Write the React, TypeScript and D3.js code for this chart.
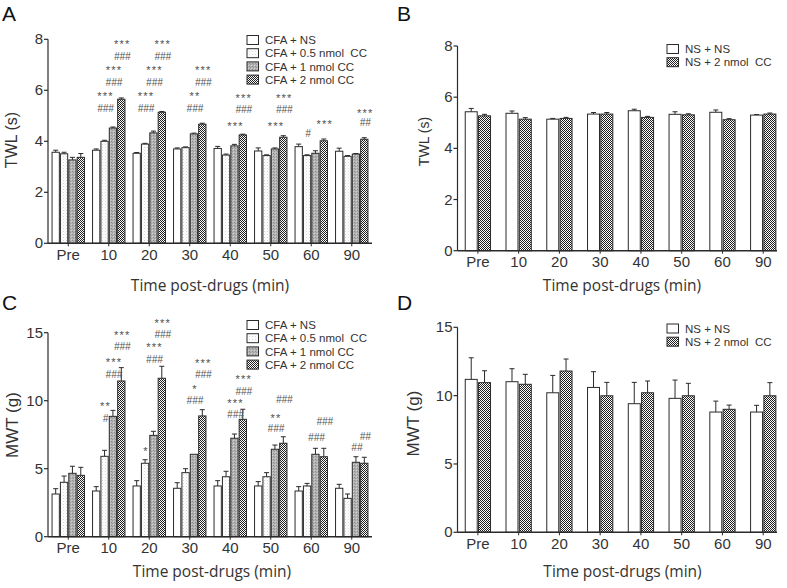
import React from "react";
import * as d3 from "d3";

const categories = ["Pre", "10", "20", "30", "40", "50", "60", "90"];

// Panel A: TWL (s), CFA groups
const cfaNames = ["CFA + NS", "CFA + 0.5 nmol  CC", "CFA + 1 nmol CC", "CFA + 2 nmol CC"];
const twlCfaNS = [3.57, 3.65, 3.53, 3.7, 3.72, 3.62, 3.79, 3.61];
const twlCfaNSErr = [0.08, 0.05, 0.03, 0.04, 0.08, 0.12, 0.1, 0.12];
const twlCc05 = [3.51, 4.0, 3.89, 3.75, 3.46, 3.44, 3.44, 3.41];
const twlCc05Err = [0.06, 0.04, 0.03, 0.03, 0.04, 0.03, 0.03, 0.03];
const twlCc1 = [3.27, 4.52, 4.33, 4.29, 3.82, 3.7, 3.53, 3.5];
const twlCc1Err = [0.1, 0.04, 0.07, 0.03, 0.06, 0.04, 0.1, 0.02];
const twlCc2 = [3.37, 5.65, 5.14, 4.67, 4.25, 4.16, 4.02, 4.08];
const twlCc2Err = [0.15, 0.05, 0.03, 0.04, 0.03, 0.06, 0.07, 0.06];

// Panel B: TWL (s), NS groups
const nsNames = ["NS + NS", "NS + 2 nmol  CC"];
const twlNsNS = [5.43, 5.37, 5.14, 5.34, 5.47, 5.33, 5.41, 5.3];
const twlNsNSErr = [0.13, 0.09, 0.03, 0.06, 0.06, 0.1, 0.09, 0.02];
const twlNsCc2 = [5.27, 5.14, 5.17, 5.34, 5.21, 5.31, 5.12, 5.34];
const twlNsCc2Err = [0.06, 0.06, 0.04, 0.06, 0.04, 0.04, 0.04, 0.04];

// Panel C: MWT (g), CFA groups
const mwtCfaNS = [3.14, 3.36, 3.73, 3.56, 3.73, 3.73, 3.36, 3.56];
const mwtCfaNSErr = [0.39, 0.32, 0.39, 0.41, 0.39, 0.32, 0.32, 0.29];
const mwtCc05 = [4.0, 5.91, 5.4, 4.71, 4.41, 4.41, 3.73, 2.82];
const mwtCc05Err = [0.46, 0.44, 0.26, 0.29, 0.4, 0.3, 0.19, 0.32];
const mwtCc1 = [4.66, 8.85, 7.45, 6.06, 7.24, 6.43, 6.06, 5.47];
const mwtCc1Err = [0.52, 0.44, 0.3, 0, 0.31, 0.31, 0.44, 0.41];
const mwtCc2 = [4.51, 11.45, 11.65, 8.88, 8.63, 6.87, 5.88, 5.4];
const mwtCc2Err = [0.59, 0.98, 0.88, 0.46, 0.74, 0.48, 0.62, 0.44];

// Panel D: MWT (g), NS groups
const mwtNsNS = [11.19, 11.02, 10.21, 10.6, 9.41, 9.8, 8.8, 8.8];
const mwtNsNSErr = [1.58, 0.95, 1.27, 1.15, 1.56, 1.34, 0.8, 0.49];
const mwtNsCc2 = [10.95, 10.83, 11.8, 9.99, 10.21, 9.99, 9.0, 9.99];
const mwtNsCc2Err = [0.87, 0.73, 0.88, 0.98, 0.86, 0.91, 0.31, 0.96];

const twlTicks = [0, 2, 4, 6, 8];
const mwtTicks = [0, 5, 10, 15];

// significance marks: [category, series index, text, level in axis units]
const twlMarks: [string, number, string, number][] = [
  ["10", 1, "***", 5.9], ["10", 1, "###", 5.27], ["10", 2, "***", 6.9], ["10", 2, "###", 6.3], ["10", 3, "***", 7.93], ["10", 3, "###", 7.33],
  ["20", 1, "***", 5.9], ["20", 1, "###", 5.27], ["20", 2, "***", 6.9], ["20", 2, "###", 6.3], ["20", 3, "***", 7.93], ["20", 3, "###", 7.33],
  ["30", 2, "**", 5.9], ["30", 2, "###", 5.27], ["30", 3, "***", 6.9], ["30", 3, "###", 6.3],
  ["40", 2, "***", 4.72], ["40", 3, "***", 5.8], ["40", 3, "###", 5.23],
  ["50", 2, "***", 4.72], ["50", 3, "***", 5.8], ["50", 3, "###", 5.23],
  ["60", 1, "#", 4.29], ["60", 3, "***", 4.78],
  ["90", 3, "***", 5.23], ["90", 3, "##", 4.72],
];
const mwtMarks: [string, number, string, number][] = [
  ["10", 1, "**", 9.85], ["10", 1, "#", 8.7], ["10", 2, "***", 13.07], ["10", 2, "###", 11.96], ["10", 3, "***", 15.05], ["10", 3, "###", 13.95],
  ["20", 1, "*", 6.54], ["20", 2, "***", 14.17], ["20", 2, "###", 13.04], ["20", 3, "***", 15.93], ["20", 3, "###", 14.88],
  ["30", 2, "*", 11.1], ["30", 2, "###", 10.05], ["30", 3, "***", 12.97], ["30", 3, "###", 11.89],
  ["40", 2, "***", 10.05], ["40", 2, "###", 8.95], ["40", 3, "***", 11.82], ["40", 3, "###", 10.71],
  ["50", 2, "**", 8.95], ["50", 2, "###", 7.92], ["50", 3, "###", 10.1],
  ["60", 2, "###", 7.31], ["60", 3, "###", 8.46],
  ["90", 2, "##", 6.57], ["90", 3, "##", 7.4],
];

const FONT = "'Liberation Sans', Arial, sans-serif";
const TITLE_FONT = "'Open Sans', 'DejaVu Sans', sans-serif";
const INK = "#2a2a2a";

type Series = { name: string; values: number[]; errs: number[]; fill: string };

type PanelProps = {
  letter: string;
  lx: number;
  ly: number;
  x0: number;
  x1: number;
  axisEnd: number;
  pIn: number;
  pOut: number;
  innerPad: number;
  yBottom: number;
  yTop: number;
  ticks: number[];
  series: Series[];
  marks: [string, number, string, number][];
  yTitle: string;
  yTitleX: number;
  yTitleY: number;
  yTitleSize: number;
  xTitleX: number;
  xTitleY: number;
  legX: number;
  legY: number;
  legStep: number;
  legFont: number;
};

function Panel(p: PanelProps) {
  const yMax = p.ticks[p.ticks.length - 1];
  const y = d3.scaleLinear().domain([0, yMax]).range([p.yBottom, p.yTop]);
  const xb = d3.scaleBand<string>().domain(categories).range([p.x0, p.x1]).paddingInner(p.pIn).paddingOuter(p.pOut);
  const xi = d3.scaleBand<number>().domain(d3.range(p.series.length)).range([0, xb.bandwidth()]).paddingInner(p.innerPad);
  const bw = xi.bandwidth();
  const cap = Math.min(2.5, bw / 2);
  return (
    <g>
      <text x={p.lx} y={p.ly} fontFamily={FONT} fontSize={21} fill="#111">{p.letter}</text>
      {/* bars */}
      {categories.map((c, ci) =>
        p.series.map((s, si) => {
          const v = s.values[ci];
          const e = s.errs[ci];
          const bx = (xb(c) as number) + (xi(si) as number);
          const cx = bx + bw / 2;
          return (
            <g key={c + "-" + si}>
              {e > 0 && (
                <g stroke={INK} strokeWidth={1}>
                  <line x1={cx} x2={cx} y1={y(v)} y2={y(v + e)} />
                  <line x1={cx - cap} x2={cx + cap} y1={y(v + e)} y2={y(v + e)} />
                </g>
              )}
              <rect x={bx} y={y(v)} width={bw} height={y(0) - y(v)} fill={s.fill} stroke={INK} strokeWidth={1} />
            </g>
          );
        })
      )}
      {/* marks */}
      {p.marks.map(([c, si, t, lv], k) => {
        const cx = (xb(c) as number) + (xi(si) as number) + bw / 2 + 1;
        const isStar = t.includes("*");
        return (
          <text
            key={"m" + k}
            x={cx}
            y={y(lv) + (isStar ? 7 : 3.5)}
            textAnchor="middle"
            fontFamily={FONT}
            fontSize={isStar ? 11 : 10}
            letterSpacing={isStar ? 1.2 : 0}
            fontStyle={isStar ? "normal" : "italic"}
            fill="#505050"
          >
            {t}
          </text>
        );
      })}
      {/* y axis */}
      <line x1={p.x0} x2={p.x0} y1={y(0)} y2={y(yMax)} stroke={INK} strokeWidth={1.2} />
      {p.ticks.map((t) => (
        <g key={"t" + t}>
          <line x1={p.x0 - 4} x2={p.x0} y1={y(t)} y2={y(t)} stroke={INK} strokeWidth={1.2} />
          <text x={p.x0 - 5} y={y(t) + 5} textAnchor="end" fontFamily={FONT} fontSize={15} fill="#333">
            {t}
          </text>
        </g>
      ))}
      {/* x axis */}
      <line x1={p.x0} x2={p.axisEnd} y1={y(0)} y2={y(0)} stroke={INK} strokeWidth={1.6} />
      {categories.map((c) => {
        const cx = (xb(c) as number) + xb.bandwidth() / 2;
        return (
          <g key={"x" + c}>
            <line x1={cx} x2={cx} y1={y(0)} y2={y(0) + 3} stroke={INK} strokeWidth={1} />
            <text x={cx} y={y(0) + 16.5} textAnchor="middle" fontFamily={FONT} fontSize={15} fill="#333">
              {c}
            </text>
          </g>
        );
      })}
      {/* titles */}
      <text
        transform={`translate(${p.yTitleX},${p.yTitleY}) rotate(-90)`}
        textAnchor="middle"
        fontFamily={FONT}
        fontSize={p.yTitleSize}
        fill="#333"
      >
        {p.yTitle}
      </text>
      <text x={p.xTitleX} y={p.xTitleY} textAnchor="middle" fontFamily={TITLE_FONT} fontSize={15.5} fill="#333">
        Time post-drugs (min)
      </text>
      {/* legend */}
      {p.series.map((s, si) => (
        <g key={"l" + si}>
          <rect x={p.legX} y={p.legY + si * p.legStep - 4.5} width={11.5} height={9} fill={s.fill} stroke={INK} strokeWidth={1} />
          <text
            x={p.legX + 18}
            y={p.legY + si * p.legStep + p.legFont * 0.36}
            fontFamily={FONT}
            fontSize={p.legFont}
            fill="#333"
            style={{ whiteSpace: "pre" }}
          >
            {s.name}
          </text>
        </g>
      ))}
    </g>
  );
}

export default function App() {
  const fills = ["#ffffff", "url(#pDots)", "url(#pGray)", "url(#pCheck)"];
  const cfaTwl: Series[] = [
    { name: cfaNames[0], values: twlCfaNS, errs: twlCfaNSErr, fill: fills[0] },
    { name: cfaNames[1], values: twlCc05, errs: twlCc05Err, fill: fills[1] },
    { name: cfaNames[2], values: twlCc1, errs: twlCc1Err, fill: fills[2] },
    { name: cfaNames[3], values: twlCc2, errs: twlCc2Err, fill: fills[3] },
  ];
  const nsTwl: Series[] = [
    { name: nsNames[0], values: twlNsNS, errs: twlNsNSErr, fill: fills[0] },
    { name: nsNames[1], values: twlNsCc2, errs: twlNsCc2Err, fill: fills[3] },
  ];
  const cfaMwt: Series[] = [
    { name: cfaNames[0], values: mwtCfaNS, errs: mwtCfaNSErr, fill: fills[0] },
    { name: cfaNames[1], values: mwtCc05, errs: mwtCc05Err, fill: fills[1] },
    { name: cfaNames[2], values: mwtCc1, errs: mwtCc1Err, fill: fills[2] },
    { name: cfaNames[3], values: mwtCc2, errs: mwtCc2Err, fill: fills[3] },
  ];
  const nsMwt: Series[] = [
    { name: nsNames[0], values: mwtNsNS, errs: mwtNsNSErr, fill: fills[0] },
    { name: nsNames[1], values: mwtNsCc2, errs: mwtNsCc2Err, fill: fills[3] },
  ];
  const leftX = { x0: 48, x1: 372, axisEnd: 372, pIn: 0.2, pOut: 0.1, innerPad: 0.13 };
  const rightX = { x0: 457.5, x1: 783.6, axisEnd: 777, pIn: 0.38, pOut: 0.19, innerPad: 0.1 };
  return (
    <svg
      width={787}
      height={588}
      style={{ position: "absolute", left: 0, top: 0, background: "#fff" }}
      xmlns="http://www.w3.org/2000/svg"
    >
      <defs>
        <pattern id="pDots" width={3} height={3} patternUnits="userSpaceOnUse">
          <rect width={3} height={3} fill="#ffffff" />
          <rect x={0} y={0} width={1} height={1} fill="#d4d4d4" />
          <rect x={1.5} y={1.5} width={1} height={1} fill="#e4e4e4" />
        </pattern>
        <pattern id="pGray" width={3} height={3} patternUnits="userSpaceOnUse">
          <rect width={3} height={3} fill="#b4b4b4" />
          <rect x={0} y={0} width={1} height={1} fill="#8c8c8c" />
          <rect x={1} y={1} width={1} height={1} fill="#9a9a9a" />
          <rect x={2} y={2} width={1} height={1} fill="#d0d0d0" />
        </pattern>
        <pattern id="pCheck" width={2} height={2} patternUnits="userSpaceOnUse">
          <rect width={2} height={2} fill="#ffffff" />
          <rect x={0} y={0} width={1} height={1} fill="#1e1e1e" />
          <rect x={1} y={1} width={1} height={1} fill="#1e1e1e" />
        </pattern>
      </defs>
      <rect width={787} height={588} fill="#fff" />
      <Panel
        letter="A" lx={2} ly={21}
        {...leftX}
        yBottom={243.3} yTop={39.3} ticks={twlTicks}
        series={cfaTwl} marks={twlMarks}
        yTitle="TWL (s)" yTitleX={17} yTitleY={140} yTitleSize={16}
        xTitleX={210} xTitleY={291}
        legX={247} legY={40} legStep={13.2} legFont={11.5}
      />
      <Panel
        letter="B" lx={397} ly={21}
        {...rightX}
        yBottom={250.7} yTop={46} ticks={twlTicks}
        series={nsTwl} marks={[]}
        yTitle="TWL (s)" yTitleX={429} yTitleY={141.5} yTitleSize={14}
        xTitleX={622} xTitleY={291}
        legX={667} legY={49} legStep={13.2} legFont={11.5}
      />
      <Panel
        letter="C" lx={2} ly={310}
        {...leftX}
        yBottom={536.7} yTop={332.7} ticks={mwtTicks}
        series={cfaMwt} marks={mwtMarks}
        yTitle="MWT (g)" yTitleX={17.5} yTitleY={425} yTitleSize={17}
        xTitleX={212} xTitleY={577}
        legX={247} legY={325} legStep={13.2} legFont={11.5}
      />
      <Panel
        letter="D" lx={397} ly={310}
        {...rightX}
        yBottom={532.3} yTop={327.3} ticks={mwtTicks}
        series={nsMwt} marks={[]}
        yTitle="MWT (g)" yTitleX={418.5} yTitleY={423.5} yTitleSize={17}
        xTitleX={622.5} xTitleY={577}
        legX={667} legY={328.5} legStep={13.2} legFont={11.5}
      />
    </svg>
  );
}
